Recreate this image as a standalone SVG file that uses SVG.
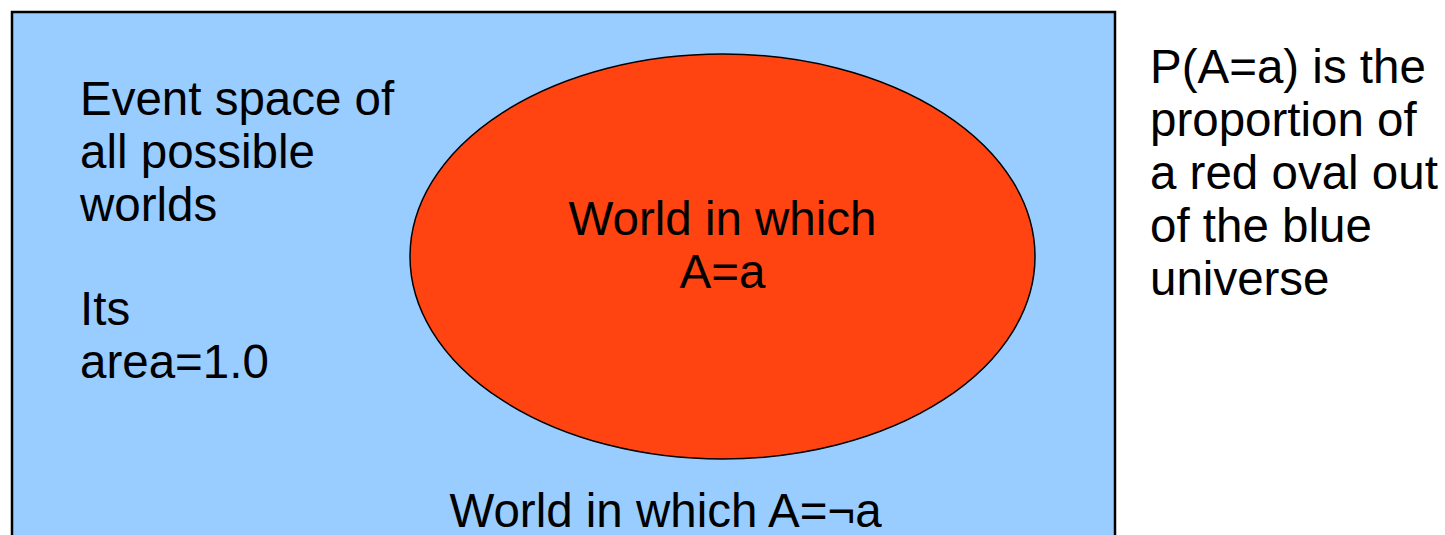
<svg xmlns="http://www.w3.org/2000/svg" width="1445" height="535" viewBox="0 0 1445 535">
<style>
  .t { font-family: "Liberation Sans", Arial, sans-serif; font-size: 47.5px; fill: #000; }
  .c { text-anchor: middle; }
</style>
<rect width="1445" height="535" fill="#ffffff"/>
<g id="universe">
  <rect x="12" y="12" width="1103" height="540" fill="#99CCFF" stroke="#000" stroke-width="2.5"/>
  <text class="t" x="80" y="115">Event space of</text>
  <text class="t" x="80" y="168">all possible</text>
  <text class="t" x="80" y="221">worlds</text>
  <text class="t" x="80" y="325">Its</text>
  <text class="t" x="80" y="378">area=1.0</text>
  <text class="t c" x="665.5" y="527">World in which A=¬a</text>
</g>
<g id="oval">
  <ellipse cx="722.5" cy="256.5" rx="312.5" ry="202.5" fill="#FF4411" stroke="#000" stroke-width="1.5"/>
  <text class="t c" x="722.5" y="235">World in which</text>
  <text class="t c" x="722.5" y="288">A=a</text>
</g>
<g id="caption">
  <text class="t" x="1150" y="83">P(A=a) is the</text>
  <text class="t" x="1150" y="136">proportion of</text>
  <text class="t" x="1150" y="189">a red oval out</text>
  <text class="t" x="1150" y="242">of the blue</text>
  <text class="t" x="1150" y="295">universe</text>
</g>
<g id="connectors"></g>
</svg>
